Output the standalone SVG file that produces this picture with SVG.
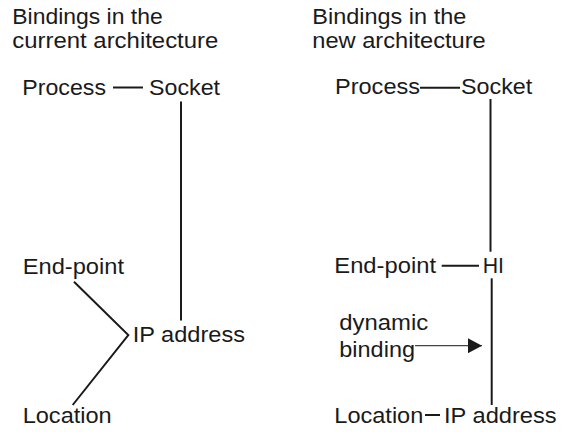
<svg xmlns="http://www.w3.org/2000/svg" width="563" height="432" viewBox="0 0 563 432">
<style>
text{font-family:"Liberation Sans",Arial,Helvetica,sans-serif;font-size:21.5px;fill:#1a1a1a}
.ln{stroke:#1a1a1a;stroke-width:2;fill:none}
.ar{stroke:#444;stroke-width:1.3;fill:none}
</style>
<defs>
<marker id="ah" markerWidth="14" markerHeight="15" refX="14" refY="7.5" orient="auto" markerUnits="userSpaceOnUse">
<path d="M0,0 L14,7.5 L0,15 Z" fill="#1a1a1a"/>
</marker>
</defs>
<rect width="563" height="432" fill="#fff"/>
<g id="title-left">
<text x="12.3" y="24" textLength="150.4" lengthAdjust="spacingAndGlyphs">Bindings in the</text>
<text x="12.3" y="47.5" textLength="206" lengthAdjust="spacingAndGlyphs">current architecture</text>
</g>
<g id="title-right">
<text x="312.3" y="24" textLength="154" lengthAdjust="spacingAndGlyphs">Bindings in the</text>
<text x="312.3" y="47.5" textLength="173.4" lengthAdjust="spacingAndGlyphs">new architecture</text>
</g>
<g id="connectors">
<line class="ln" x1="113" y1="87.5" x2="143" y2="87.5"/>
<line class="ln" x1="181" y1="101.5" x2="181" y2="320.5"/>
<polyline class="ln" points="74,281.7 128.3,335 72.7,405"/>
<line class="ln" x1="420" y1="87.7" x2="460" y2="87.7"/>
<line class="ln" x1="490.5" y1="99" x2="490.5" y2="251.7"/>
<line class="ln" x1="441.7" y1="265.7" x2="479" y2="265.7"/>
<line class="ln" x1="491.7" y1="278.3" x2="491.7" y2="405"/>
<line class="ln" x1="425" y1="415" x2="440" y2="415"/>
<line class="ar" x1="415" y1="345.7" x2="482" y2="345.7" marker-end="url(#ah)"/>
</g>
<g id="node-process-left"><text x="22.3" y="94.5" textLength="83.7" lengthAdjust="spacingAndGlyphs">Process</text></g>
<g id="node-socket-left"><text x="149" y="94.5" textLength="71" lengthAdjust="spacingAndGlyphs">Socket</text></g>
<g id="node-endpoint-left"><text x="22.7" y="274" textLength="101.3" lengthAdjust="spacingAndGlyphs">End-point</text></g>
<g id="node-ip-left"><text x="132.7" y="341.7" textLength="112.3" lengthAdjust="spacingAndGlyphs">IP address</text></g>
<g id="node-location-left"><text x="22.7" y="423.3" textLength="89" lengthAdjust="spacingAndGlyphs">Location</text></g>
<g id="node-process-right"><text x="335" y="94" textLength="85" lengthAdjust="spacingAndGlyphs">Process</text></g>
<g id="node-socket-right"><text x="461" y="94" textLength="71.3" lengthAdjust="spacingAndGlyphs">Socket</text></g>
<g id="node-endpoint-right"><text x="334.3" y="273.3" textLength="101.7" lengthAdjust="spacingAndGlyphs">End-point</text></g>
<g id="node-hi"><text x="482.7" y="273.3" textLength="21.3" lengthAdjust="spacingAndGlyphs">HI</text></g>
<g id="label-dynamic">
<text x="339.3" y="330" textLength="89" lengthAdjust="spacingAndGlyphs">dynamic</text>
<text x="339.3" y="356.7" textLength="75.7" lengthAdjust="spacingAndGlyphs">binding</text>
</g>
<g id="node-location-right"><text x="334.3" y="423.3" textLength="89" lengthAdjust="spacingAndGlyphs">Location</text></g>
<g id="node-ip-right"><text x="444" y="423.3" textLength="112.7" lengthAdjust="spacingAndGlyphs">IP address</text></g>
</svg>
